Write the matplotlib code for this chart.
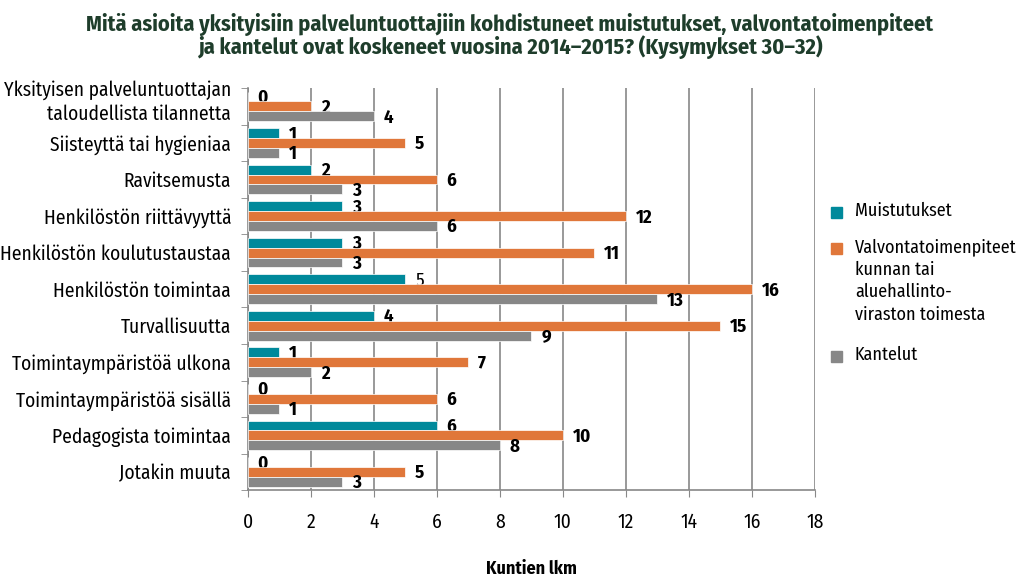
import matplotlib
matplotlib.use('Agg')
from matplotlib import pyplot as plt
from matplotlib.patches import Rectangle
from matplotlib.transforms import ScaledTranslation
import numpy as np

plt.rcParams['font.family'] = ['Fira Sans Condensed', 'DejaVu Sans']

categories = ['Yksityisen palveluntuottajan\ntaloudellista tilannetta',
              'Siisteyttä tai hygieniaa',
              'Ravitsemusta',
              'Henkilöstön riittävyyttä',
              'Henkilöstön koulutustaustaa',
              'Henkilöstön toimintaa',
              'Turvallisuutta',
              'Toimintaympäristöä ulkona',
              'Toimintaympäristöä sisällä',
              'Pedagogista toimintaa',
              'Jotakin muuta']
muistutukset = [0, 1, 2, 3, 3, 5, 4, 1, 0, 6, 0]
valvonta = [2, 5, 6, 12, 11, 16, 15, 7, 6, 10, 5]
kantelut = [4, 1, 3, 6, 3, 13, 9, 2, 1, 8, 3]

series = [('Muistutukset', muistutukset, '#00899b'),
          ('Valvontatoimenpiteet\nkunnan tai\naluehallinto-\nviraston toimesta', valvonta, '#e0773a'),
          ('Kantelut', kantelut, '#878787')]

fig = plt.figure(figsize=(10.2, 5.76), dpi=100)
ax = fig.add_axes([0.243, 0.149, 0.556, 0.698])

y = np.arange(len(categories))
h = 0.27
for i, (name, vals, col) in enumerate(series):
    pos = y + (i - 1) * h
    ax.barh(pos, vals, height=h, color=col, edgecolor='white', linewidth=0.5, zorder=3)
    for p, v in zip(pos, vals):
        weight = 'bold'
        # this one label is set in regular weight
        if name == 'Muistutukset' and v == 5:
            weight = 'normal'
        ax.annotate(str(v), (v, p), xytext=(7, -1), textcoords='offset points',
                    ha='left', va='center', fontsize=13.5, fontweight=weight, color='black')

ax.set_ylim(len(categories) - 0.5, -0.5)
ax.set_xlim(0, 18)
ax.set_xticks(np.arange(0, 19, 2))
ax.set_yticks(y)
ax.set_yticklabels(categories, fontsize=14, linespacing=1.25)
ax.set_yticks(np.arange(-0.5, len(categories), 1), minor=True)
ax.tick_params(axis='y', which='major', length=0, pad=12)
ax.tick_params(axis='y', which='minor', length=5, color='#888888', direction='out')
ax.tick_params(axis='x', length=5, color='#888888', labelsize=14, pad=11)
ax.grid(axis='x', color='#888888', linewidth=1.2, zorder=0)

# lift the two-line label a little so it clears the row below
first = ax.get_yticklabels()[0]
first.set_transform(first.get_transform() + ScaledTranslation(0, 6 / 72, fig.dpi_scale_trans))

for s in ['top', 'right']:
    ax.spines[s].set_visible(False)
for s in ['left', 'bottom']:
    ax.spines[s].set_color('#888888')
    ax.spines[s].set_linewidth(1.2)

ax.set_xlabel('Kuntien lkm', fontsize=13, fontweight='bold', labelpad=20)

fig.text(0.5, 0.978, 'Mitä asioita yksityisiin palveluntuottajiin kohdistuneet muistutukset, valvontatoimenpiteet\n'
         'ja kantelut ovat koskeneet vuosina 2014–2015? (Kysymykset 30–32)',
         ha='center', va='top', fontsize=16, fontweight='bold', color='#1e3d2b', linespacing=1.0)

# legend: square marker aligned with the first line of each label
W, H = fig.get_size_inches() * fig.dpi
legend_rows = [212, 248, 356]
for (name, _, col), ypx in zip(series, legend_rows):
    fig.add_artist(Rectangle((831 / W, 1 - (ypx + 5.5) / H), 11 / W, 11 / H,
                             transform=fig.transFigure, color=col))
    fig.text(855 / W, 1 - (ypx - 10) / H, name, ha='left', va='top',
             fontsize=13, linespacing=1.35)

fig.savefig('out.png', dpi=100)
